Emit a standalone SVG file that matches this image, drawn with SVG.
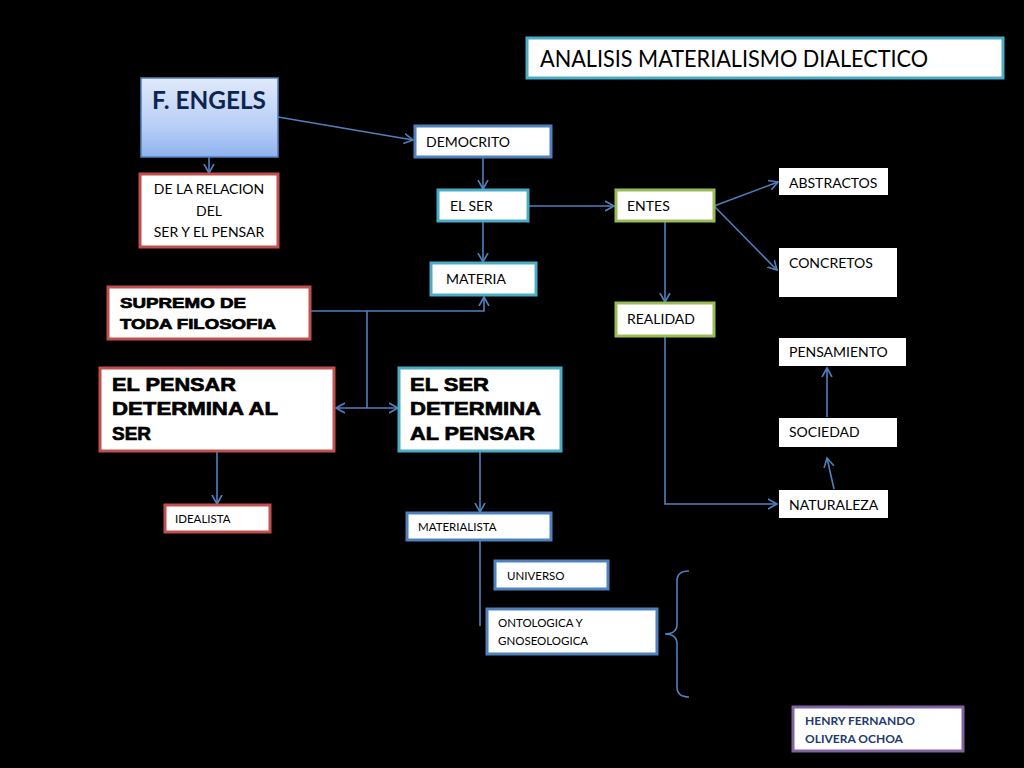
<svg xmlns="http://www.w3.org/2000/svg" width="1024" height="768" viewBox="0 0 1024 768">
<defs>
<linearGradient id="gEng" x1="0" y1="0" x2="0" y2="1">
<stop offset="0" stop-color="#dfe9fb"/>
<stop offset="0.6" stop-color="#b9cff6"/>
<stop offset="1" stop-color="#8fb2ee"/>
</linearGradient>
<marker id="arr" markerUnits="userSpaceOnUse" markerWidth="14" markerHeight="14" refX="9" refY="5" orient="auto-start-reverse" viewBox="0 0 14 10">
<path d="M0,0 L9,5 L0,10" fill="none" stroke="#4f81bd" stroke-width="1.6"/>
</marker>
<style>
.c{fill:none;stroke:#4f81bd;stroke-width:1.6}
.a{marker-end:url(#arr)}
.bx{fill:#fff;stroke-width:3}
.red{stroke:#c0504d}
.teal{stroke:#4bacc6}
.blue{stroke:#4f81bd}
.green{stroke:#9bbb59}
.purple{stroke:#8064a2}
.none{stroke:none}
.t{font-family:Lato,"Open Sans","Liberation Sans",sans-serif;font-size:14px;fill:#000}
.s{font-family:Lato,"Open Sans","Liberation Sans",sans-serif;font-size:11.5px;fill:#000}
.k{font-family:"Liberation Sans",Arial,sans-serif;font-weight:900;fill:#000;stroke:#000;stroke-width:0.7}
</style>
</defs>
<rect width="1024" height="768" fill="#000"/>

<g id="connectors">
<line class="c a" x1="278" y1="117" x2="413" y2="140"/>
<line class="c a" x1="209" y1="157" x2="209" y2="173"/>
<line class="c a" x1="483" y1="157" x2="483" y2="189"/>
<line class="c a" x1="483" y1="221" x2="483" y2="262"/>
<line class="c a" x1="528" y1="206" x2="614" y2="206"/>
<line class="c a" x1="714" y1="206" x2="778" y2="182"/>
<line class="c a" x1="714" y1="206" x2="777" y2="270"/>
<line class="c a" x1="665" y1="221" x2="665" y2="302"/>
<polyline class="c a" points="665,336 665,504 777,504"/>
<line class="c a" x1="834" y1="489" x2="827" y2="458"/>
<line class="c a" x1="827" y1="417" x2="827" y2="368"/>
<polyline class="c a" points="310,311 484,311 484,297"/>
<line class="c" x1="367" y1="311" x2="367" y2="408"/>
<line class="c a" x1="336" y1="408" x2="398" y2="408" style="marker-start:url(#arr)"/>
<line class="c a" x1="217" y1="451" x2="217" y2="504"/>
<line class="c a" x1="480" y1="451" x2="480" y2="512"/>
<line class="c" x1="480" y1="540" x2="480" y2="626"/>
<path class="c" d="M689,571 Q677,571 677,581 L677,624 Q677,634 665,634 Q677,634 677,644 L677,687 Q677,697 689,697"/>
</g>

<g id="title">
<rect class="bx teal" x="527" y="38" width="476" height="40"/>
<text x="540" y="67" font-family="Lato,'Open Sans','Liberation Sans',sans-serif" font-size="23" textLength="388" lengthAdjust="spacingAndGlyphs">ANALISIS MATERIALISMO DIALECTICO</text>
</g>

<g id="engels">
<rect x="141" y="78" width="137" height="79" fill="url(#gEng)" stroke="#4f81bd" stroke-width="1.5"/>
<text x="209" y="109" text-anchor="middle" font-family="Lato,'Open Sans','Liberation Sans',sans-serif" font-weight="bold" font-size="24" fill="#0e2450" textLength="114" lengthAdjust="spacingAndGlyphs">F. ENGELS</text>
</g>

<g id="relacion">
<rect class="bx red" x="140" y="174" width="138" height="73"/>
<text class="t" x="209" y="194" text-anchor="middle">DE LA RELACION</text>
<text class="t" x="209" y="216" text-anchor="middle">DEL</text>
<text class="t" x="209" y="237" text-anchor="middle">SER Y EL PENSAR</text>
</g>

<g id="democrito">
<rect class="bx blue" x="415" y="126" width="136" height="31"/>
<text class="t" x="426" y="147">DEMOCRITO</text>
</g>

<g id="elser">
<rect class="bx teal" x="438" y="190" width="90" height="31"/>
<text class="t" x="450" y="211">EL SER</text>
</g>

<g id="materia">
<rect class="bx teal" x="431" y="263" width="105" height="32"/>
<text class="t" x="446" y="284">MATERIA</text>
</g>

<g id="entes">
<rect class="bx green" x="616" y="190" width="98" height="31"/>
<text class="t" x="627" y="211">ENTES</text>
</g>

<g id="realidad">
<rect class="bx green" x="616" y="303" width="98" height="33"/>
<text class="t" x="627" y="324">REALIDAD</text>
</g>

<g id="abstractos">
<rect class="bx none" x="779" y="168" width="109" height="27"/>
<text class="t" x="789" y="188">ABSTRACTOS</text>
</g>

<g id="concretos">
<rect class="bx none" x="779" y="248" width="118" height="49"/>
<text class="t" x="789" y="268">CONCRETOS</text>
</g>

<g id="pensamiento">
<rect class="bx none" x="779" y="338" width="127" height="28"/>
<text class="t" x="789" y="357">PENSAMIENTO</text>
</g>

<g id="sociedad">
<rect class="bx none" x="779" y="418" width="118" height="29"/>
<text class="t" x="789" y="437">SOCIEDAD</text>
</g>

<g id="naturaleza">
<rect class="bx none" x="779" y="490" width="109" height="28"/>
<text class="t" x="789" y="510">NATURALEZA</text>
</g>

<g id="supremo">
<rect class="bx red" x="108" y="287" width="202" height="52"/>
<text class="k" x="120" y="308" font-size="15" textLength="126" lengthAdjust="spacingAndGlyphs">SUPREMO DE</text>
<text class="k" x="120" y="329" font-size="15" textLength="156" lengthAdjust="spacingAndGlyphs">TODA FILOSOFIA</text>
</g>

<g id="elpensar">
<rect class="bx red" x="100" y="368" width="234" height="83"/>
<text class="k" x="112" y="391" font-size="19" textLength="124" lengthAdjust="spacingAndGlyphs">EL PENSAR</text>
<text class="k" x="112" y="415" font-size="19" textLength="166" lengthAdjust="spacingAndGlyphs">DETERMINA AL</text>
<text class="k" x="112" y="440" font-size="19" textLength="39" lengthAdjust="spacingAndGlyphs">SER</text>
</g>

<g id="elserdetermina">
<rect class="bx teal" x="399" y="368" width="162" height="83"/>
<text class="k" x="410" y="391" font-size="19" textLength="79" lengthAdjust="spacingAndGlyphs">EL SER</text>
<text class="k" x="410" y="415" font-size="19" textLength="131" lengthAdjust="spacingAndGlyphs">DETERMINA</text>
<text class="k" x="410" y="440" font-size="19" textLength="125" lengthAdjust="spacingAndGlyphs">AL PENSAR</text>
</g>

<g id="idealista">
<rect class="bx red" x="165" y="505" width="105" height="27"/>
<text class="s" x="175" y="523">IDEALISTA</text>
</g>

<g id="materialista">
<rect class="bx blue" x="407" y="513" width="144" height="27"/>
<text class="s" x="418" y="531">MATERIALISTA</text>
</g>

<g id="universo">
<rect class="bx blue" x="495" y="561" width="113" height="28"/>
<text class="s" x="507" y="580">UNIVERSO</text>
</g>

<g id="ontologica">
<rect class="bx blue" x="487" y="609" width="170" height="45"/>
<text class="s" x="498" y="627">ONTOLOGICA Y</text>
<text class="s" x="498" y="645">GNOSEOLOGICA</text>
</g>

<g id="autor">
<rect class="bx purple" x="793" y="707" width="170" height="44"/>
<text x="805" y="725" font-family="Lato,'Open Sans','Liberation Sans',sans-serif" font-weight="bold" font-size="12" fill="#1f3a6e">HENRY FERNANDO</text>
<text x="805" y="743" font-family="Lato,'Open Sans','Liberation Sans',sans-serif" font-weight="bold" font-size="12" fill="#1f3a6e">OLIVERA OCHOA</text>
</g>
</svg>
